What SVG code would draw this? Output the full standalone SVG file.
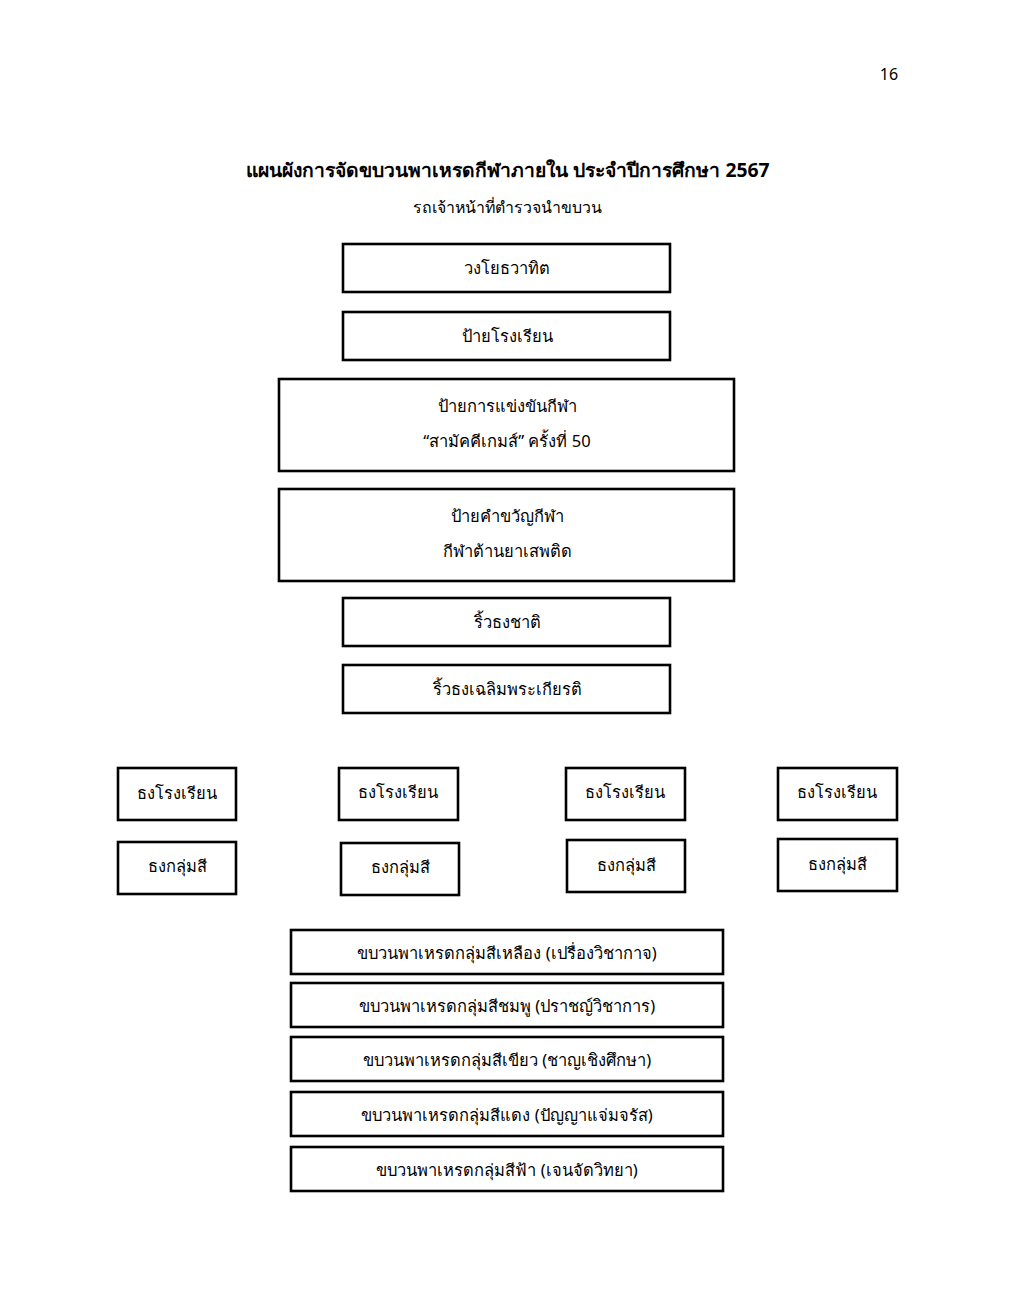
<svg xmlns="http://www.w3.org/2000/svg" width="1014" height="1306" viewBox="0 0 1014 1306">
<style>
text{font-family:"Noto Sans","DejaVu Sans",sans-serif;fill:#000;text-anchor:middle}
.t{font-size:16.5px}
.h{font-size:19.3px;font-weight:bold}
.b{fill:#fff;stroke:#000;stroke-width:2.6}
</style>
<rect width="1014" height="1306" fill="#fff"/>
<text x="889" y="80" style="font-size:16px">16</text>
<text class="h" x="508" y="177">แผนผังการจัดขบวนพาเหรดกีฬาภายใน ประจำปีการศึกษา 2567</text>
<text x="507" y="213" style="font-size:15.9px">รถเจ้าหน้าที่ตำรวจนำขบวน</text>
<g id="n1"><rect class="b" x="343" y="244" width="327" height="48"/><text class="t" x="507" y="274">วงโยธวาทิต</text></g>
<g id="n2"><rect class="b" x="343" y="312" width="327" height="48"/><text class="t" x="507" y="342">ป้ายโรงเรียน</text></g>
<g id="n3"><rect class="b" x="279" y="379" width="455" height="92"/><text class="t" x="507" y="412">ป้ายการแข่งขันกีฬา</text><text class="t" x="507" y="447">“สามัคคีเกมส์” ครั้งที่ 50</text></g>
<g id="n4"><rect class="b" x="279" y="489" width="455" height="92"/><text class="t" x="507" y="522">ป้ายคำขวัญกีฬา</text><text class="t" x="507" y="557">กีฬาต้านยาเสพติด</text></g>
<g id="n5"><rect class="b" x="343" y="598" width="327" height="48"/><text class="t" x="507" y="628">ริ้วธงชาติ</text></g>
<g id="n6"><rect class="b" x="343" y="665" width="327" height="48"/><text class="t" x="507" y="695">ริ้วธงเฉลิมพระเกียรติ</text></g>
<g id="f1"><rect class="b" x="118" y="768" width="118" height="52"/><text class="t" x="177" y="799">ธงโรงเรียน</text></g>
<g id="f2"><rect class="b" x="339" y="768" width="119" height="52"/><text class="t" x="398" y="798">ธงโรงเรียน</text></g>
<g id="f3"><rect class="b" x="566" y="768" width="119" height="52"/><text class="t" x="625" y="798">ธงโรงเรียน</text></g>
<g id="f4"><rect class="b" x="778" y="768" width="119" height="52"/><text class="t" x="837" y="798">ธงโรงเรียน</text></g>
<g id="g1"><rect class="b" x="118" y="842" width="118" height="52"/><text class="t" x="177" y="872">ธงกลุ่มสี</text></g>
<g id="g2"><rect class="b" x="341" y="843" width="118" height="52"/><text class="t" x="400" y="873">ธงกลุ่มสี</text></g>
<g id="g3"><rect class="b" x="567" y="840" width="118" height="52"/><text class="t" x="626" y="871">ธงกลุ่มสี</text></g>
<g id="g4"><rect class="b" x="778" y="839" width="119" height="52"/><text class="t" x="837" y="870">ธงกลุ่มสี</text></g>
<g id="p1"><rect class="b" x="291" y="930" width="432" height="44"/><text class="t" x="507" y="959">ขบวนพาเหรดกลุ่มสีเหลือง (เปรื่องวิชากาจ)</text></g>
<g id="p2"><rect class="b" x="291" y="983" width="432" height="44"/><text class="t" x="507" y="1012">ขบวนพาเหรดกลุ่มสีชมพู (ปราชญ์วิชาการ)</text></g>
<g id="p3"><rect class="b" x="291" y="1037" width="432" height="44"/><text class="t" x="507" y="1066">ขบวนพาเหรดกลุ่มสีเขียว (ชาญเชิงศึกษา)</text></g>
<g id="p4"><rect class="b" x="291" y="1092" width="432" height="44"/><text class="t" x="507" y="1121">ขบวนพาเหรดกลุ่มสีแดง (ปัญญาแจ่มจรัส)</text></g>
<g id="p5"><rect class="b" x="291" y="1147" width="432" height="44"/><text class="t" x="507" y="1176">ขบวนพาเหรดกลุ่มสีฟ้า (เจนจัดวิทยา)</text></g>
<g id="connectors"></g>
</svg>
